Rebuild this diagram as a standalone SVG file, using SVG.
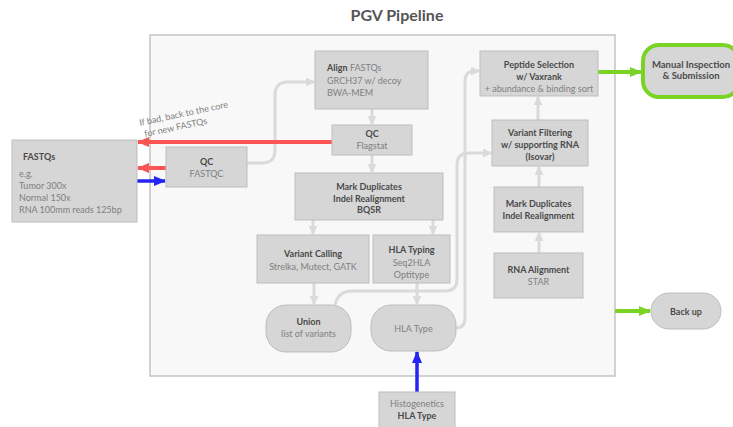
<svg xmlns="http://www.w3.org/2000/svg" width="733" height="427" viewBox="0 0 733 427">
<style>
text{font-family:Lato,"Noto Sans","Liberation Sans",sans-serif;font-size:9px}
.b{font-weight:bold;fill:#4a4a4a}
.r{fill:#808080}
.c{text-anchor:middle}
.box{fill:#d6d6d6;stroke:#bdbdbd;stroke-width:1}
.g{fill:none;stroke:#dadada;stroke-width:3}
.red{fill:none;stroke:#fd5555;stroke-width:4}
.blue{fill:none;stroke:#2424f5;stroke-width:3.5}
.green{fill:none;stroke:#79d424;stroke-width:4}
</style>
<defs>
<marker id="ag" markerUnits="userSpaceOnUse" markerWidth="9" markerHeight="9" refX="8" refY="4.5" orient="auto"><path d="M0,0 L9,4.5 L0,9 z" fill="#dadada"/></marker>
<marker id="ar" markerUnits="userSpaceOnUse" markerWidth="12" markerHeight="10" refX="11" refY="5" orient="auto"><path d="M0,0 L12,5 L0,10 z" fill="#fd5555"/></marker>
<marker id="ab" markerUnits="userSpaceOnUse" markerWidth="12" markerHeight="10" refX="11" refY="5" orient="auto"><path d="M0,0 L12,5 L0,10 z" fill="#2424f5"/></marker>
<marker id="agr" markerUnits="userSpaceOnUse" markerWidth="12" markerHeight="10" refX="11" refY="5" orient="auto"><path d="M0,0 L12,5 L0,10 z" fill="#79d424"/></marker>
</defs>
<rect width="733" height="427" fill="#ffffff"/>
<text x="397" y="21" class="b c" style="font-size:16px;fill:#555">PGV Pipeline</text>
<rect id="container" x="150" y="35" width="465" height="341" fill="#f8f8f8" stroke="#c4c4c4" stroke-width="1.5"/>

<g id="connectors">
<path class="g" d="M372,109 L372,124" marker-end="url(#ag)"/>
<path class="g" d="M372,155 L372,172" marker-end="url(#ag)"/>
<path class="g" d="M313,220 L313,234" marker-end="url(#ag)"/>
<path class="g" d="M433,220 L433,234" marker-end="url(#ag)"/>
<path class="g" d="M314,283 L314,304" marker-end="url(#ag)"/>
<path class="g" d="M417,283 L417,304" marker-end="url(#ag)"/>
<path class="g" d="M539,253 L539,233" marker-end="url(#ag)"/>
<path class="g" d="M539,187 L539,167" marker-end="url(#ag)"/>
<path class="g" d="M538,120 L538,97" marker-end="url(#ag)"/>
<path class="g" d="M247,163 L262,163 Q275,163 275,150 L275,95 Q275,82 288,82 L314,82" marker-end="url(#ag)"/>
<path class="g" d="M335,305 C337,296 342,291 352,291 L445,291 Q457,291 457,279 L457,165 Q457,153 469,153 L491,153" marker-end="url(#ag)"/>
<path class="g" d="M456,328 Q465,328 465,318 L465,81 Q465,71 475,71 L479,71" marker-end="url(#ag)"/>
<path class="red" d="M332,142 L138,142" marker-end="url(#ar)"/>
<path class="red" d="M166,168 L138,168" marker-end="url(#ar)"/>
<path class="blue" d="M137,181 L165,181" marker-end="url(#ab)"/>
<path class="blue" d="M417,392 L417,352" marker-end="url(#ab)"/>
<path class="green" d="M598,72 L641,72" marker-end="url(#agr)"/>
<path class="green" d="M615,311 L650,311" marker-end="url(#agr)"/>
<text transform="translate(140,126) rotate(-12)" class="r" style="font-size:9px">If bad, back to the core</text>
<text transform="translate(145,137) rotate(-12)" class="r" style="font-size:9px">for new FASTQs</text>
</g>

<g id="fastqs">
<rect class="box" x="12" y="140" width="125" height="82"/>
<text x="23" y="160" class="b">FASTQs</text>
<text x="19" y="177" class="r">e.g.</text>
<text x="19" y="189" class="r">Tumor 300x</text>
<text x="19" y="201" class="r">Normal 150x</text>
<text x="19" y="213" class="r">RNA 100mm reads 125bp</text>
</g>

<g id="qc-fastqc">
<rect class="box" x="166" y="147" width="81" height="40"/>
<text x="206.5" y="164.5" class="b c">QC</text>
<text x="206.5" y="176.5" class="r c">FASTQC</text>
</g>

<g id="align">
<rect class="box" x="315" y="51" width="113" height="58"/>
<text x="327" y="71" class="r"><tspan class="b">Align</tspan> FASTQs</text>
<text x="327" y="84" class="r">GRCH37 w/ decoy</text>
<text x="327" y="96" class="r">BWA-MEM</text>
</g>

<g id="qc-flagstat">
<rect class="box" x="332" y="125" width="80" height="30"/>
<text x="372" y="136.5" class="b c">QC</text>
<text x="372" y="148.5" class="r c">Flagstat</text>
</g>

<g id="mark-duplicates">
<rect class="box" x="295" y="173" width="148" height="47"/>
<text x="369" y="189.5" class="b c">Mark Duplicates</text>
<text x="369" y="201.5" class="b c">Indel Realignment</text>
<text x="369" y="213" class="b c">BQSR</text>
</g>

<g id="variant-calling">
<rect class="box" x="257" y="235" width="112" height="48"/>
<text x="313" y="256.5" class="b c">Variant Calling</text>
<text x="313" y="269.5" class="r c">Strelka, Mutect, GATK</text>
</g>

<g id="hla-typing">
<rect class="box" x="373" y="235" width="77" height="48"/>
<text x="411.5" y="252.5" class="b c">HLA Typing</text>
<text x="411.5" y="265.5" class="r c">Seq2HLA</text>
<text x="411.5" y="277.5" class="r c">Optitype</text>
</g>

<g id="union">
<rect class="box" x="266" y="305" width="85" height="47" rx="20"/>
<text x="308.5" y="324.5" class="b c">Union</text>
<text x="308.5" y="336.5" class="r c">list of variants</text>
</g>

<g id="hla-type">
<rect class="box" x="371" y="305" width="85" height="46" rx="20"/>
<text x="413.5" y="331.5" class="r c">HLA Type</text>
</g>

<g id="peptide-selection">
<rect class="box" x="480" y="51" width="118" height="45"/>
<text x="539" y="67.5" class="b c">Peptide Selection</text>
<text x="539" y="79.5" class="b c">w/ Vaxrank</text>
<text x="539" y="91.5" class="r c">+ abundance &amp; binding sort</text>
</g>

<g id="variant-filtering">
<rect class="box" x="492" y="120" width="96" height="46"/>
<text x="540" y="135.5" class="b c">Variant Filtering</text>
<text x="540" y="147.5" class="b c">w/ supporting RNA</text>
<text x="540" y="159.5" class="b c">(Isovar)</text>
</g>

<g id="rna-mark-duplicates">
<rect class="box" x="494" y="187" width="89" height="45"/>
<text x="538.5" y="206.5" class="b c">Mark Duplicates</text>
<text x="538.5" y="218.5" class="b c">Indel Realignment</text>
</g>

<g id="rna-alignment">
<rect class="box" x="494" y="253" width="89" height="45"/>
<text x="538.5" y="272.5" class="b c">RNA Alignment</text>
<text x="538.5" y="284.5" class="r c">STAR</text>
</g>

<g id="manual-inspection">
<rect x="643" y="45" width="96" height="52" rx="16" fill="#d6d6d6" stroke="#79d424" stroke-width="4"/>
<text x="691" y="67.5" class="b c" style="font-size:9.5px">Manual Inspection</text>
<text x="691" y="79" class="b c" style="font-size:9.5px">&amp; Submission</text>
</g>

<g id="back-up">
<rect class="box" x="651" y="293" width="70" height="36" rx="18"/>
<text x="686" y="314.5" class="b c">Back up</text>
</g>

<g id="histogenetics">
<rect class="box" x="379" y="392" width="76" height="42"/>
<text x="417" y="406.5" class="r c">Histogenetics</text>
<text x="417" y="418.5" class="b c">HLA Type</text>
</g>
</svg>
